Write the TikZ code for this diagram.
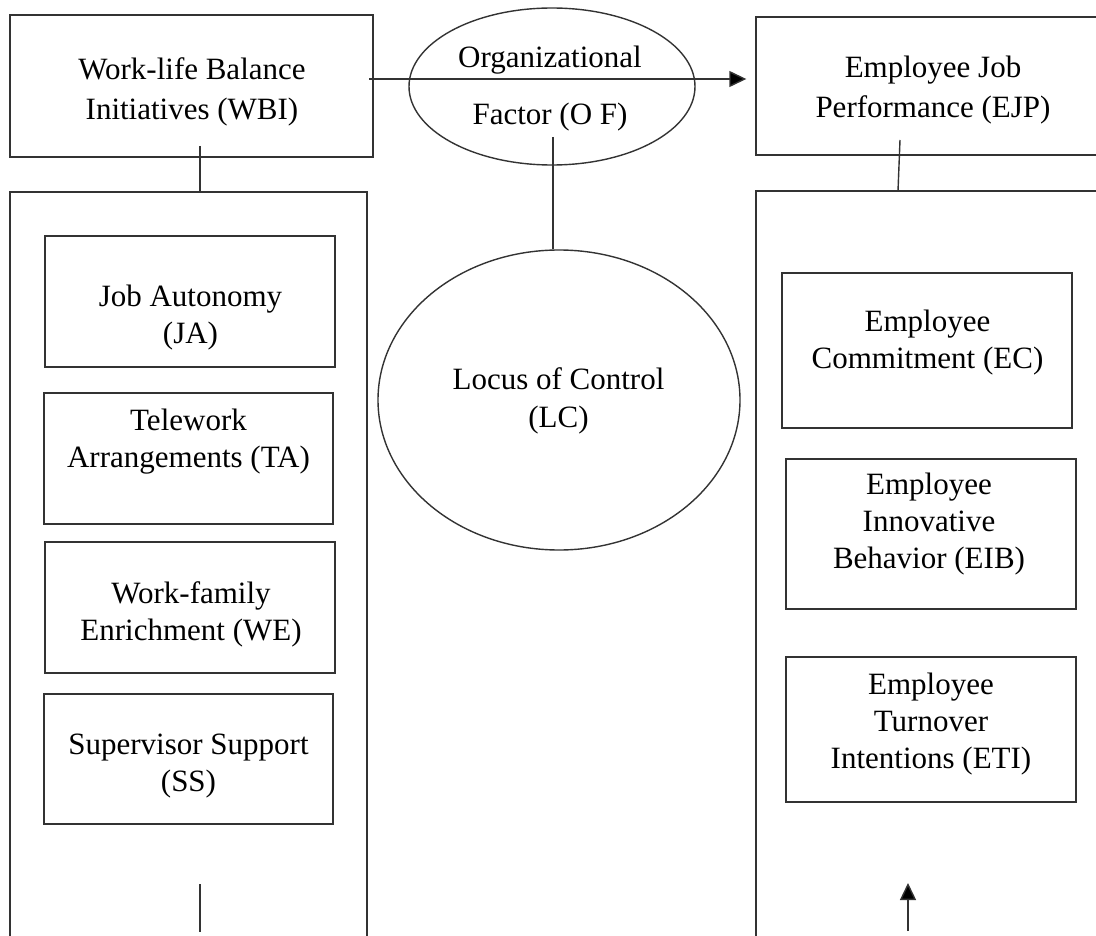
\documentclass[tikz,border=0pt]{standalone}
\usepackage{fontspec}
\setmainfont{Liberation Serif}
\usetikzlibrary{arrows.meta,shapes.geometric}
\begin{document}
\begin{tikzpicture}[x=1pt,y=-1pt,
  ln/.style={line width=1.4pt, draw=black!80},
  box/.style={ln, rectangle, inner sep=0pt},
  oval/.style={ln, ellipse, inner sep=0pt},
  lbl/.style={align=center, inner sep=0pt, text=black,
              font=\fontsize{31}{37}\selectfont},
  tip/.style={-{Triangle[length=17pt,width=16pt,fill=black]}}]
\useasboundingbox (0,0) rectangle (1096,936);
\clip (0,0) rectangle (1096,936);

% headline boxes and moderators
\node[box, minimum width=363pt, minimum height=142pt] (wbi) at (191.5,86) {};
\node[lbl, font=\fontsize{31}{40}\selectfont] (wbi-t) at (192,92) {Work-life Balance\\Initiatives (WBI)};

\node[box, minimum width=354pt, minimum height=138pt] (ejp) at (933,86) {};
\node[lbl, font=\fontsize{31}{40}\selectfont] (ejp-t) at (933,90) {Employee Job\\Performance (EJP)};

\node[oval, minimum width=286pt, minimum height=157pt] (of) at (552,86.5) {};
\node[lbl, font=\fontsize{31}{57}\selectfont] (of-t) at (550,89) {Organizational\\Factor (O F)};

\node[oval, minimum width=362pt, minimum height=300pt] (lc) at (559,400) {};
\node[lbl, font=\fontsize{31}{38}\selectfont] (lc-t) at (558.5,401) {Locus of Control\\(LC)};

% dimension panels
\node[box, minimum width=357pt, minimum height=768pt] (wbipanel) at (188.5,576) {};
\node[box, minimum width=364pt, minimum height=769pt] (ejppanel) at (938,575.5) {};

% work-life balance dimensions
\node[box, minimum width=290pt, minimum height=131pt] (ja) at (190,301.5) {};
\node[lbl] (ja-t) at (190.5,317.5) {Job Autonomy\\(JA)};
\node[box, minimum width=289pt, minimum height=131pt] (ta) at (188.5,458.5) {};
\node[lbl] (ta-t) at (188.5,441.5) {Telework\\Arrangements (TA)};
\node[box, minimum width=290pt, minimum height=131pt] (we) at (190,607.5) {};
\node[lbl] (we-t) at (191,614.5) {Work-family\\Enrichment (WE)};
\node[box, minimum width=289pt, minimum height=130pt] (ss) at (188.5,759) {};
\node[lbl] (ss-t) at (188.5,766) {Supervisor Support\\(SS)};

% job performance dimensions
\node[box, minimum width=290pt, minimum height=155pt] (ec) at (927,350.5) {};
\node[lbl] (ec-t) at (927.5,342.5) {Employee\\Commitment (EC)};
\node[box, minimum width=290pt, minimum height=150pt] (eib) at (931,534) {};
\node[lbl] (eib-t) at (929,524.5) {Employee\\Innovative\\Behavior (EIB)};
\node[box, minimum width=290pt, minimum height=145pt] (eti) at (931,729.5) {};
\node[lbl] (eti-t) at (931,724) {Employee\\Turnover\\Intentions (ETI)};

% connector ends
\coordinate (wbi-out) at (369,79);
\coordinate (wbi-stub) at (200,146);
\coordinate (of-stub) at (553,137);
\coordinate (ejp-stub) at (900,140);
\coordinate (ejp-drop) at (898,191);
\coordinate (wbi-foot-a) at (200,884);
\coordinate (wbi-foot-b) at (200,932);
\coordinate (ejp-foot-a) at (908,931);
\coordinate (ejp-foot-b) at (908,883);

% connectors
\draw[ln, tip] (wbi-out) -- (wbi-out -| ejp.west) [shorten >=9pt];
\draw[ln] (wbi-stub) -- (wbi-stub |- wbipanel.north);
\draw[ln] (of-stub) -- (of-stub |- lc.north);
\draw[ln] (ejp-stub) -- (ejp-drop);
\draw[ln] (wbi-foot-a) -- (wbi-foot-b);
\draw[ln, tip] (ejp-foot-a) -- (ejp-foot-b);
\end{tikzpicture}
\end{document}
